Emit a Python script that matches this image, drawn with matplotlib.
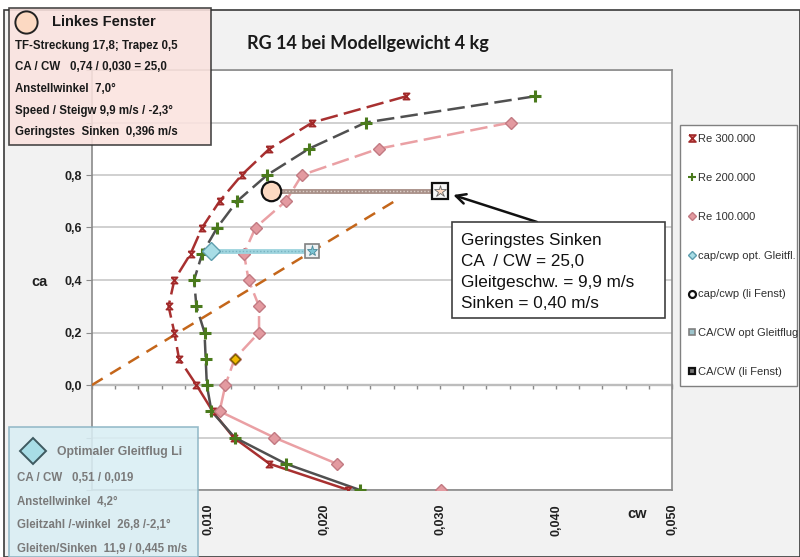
import matplotlib
matplotlib.use('Agg')
import matplotlib.pyplot as plt
import numpy as np
from matplotlib.lines import Line2D
from matplotlib.patches import Rectangle
from matplotlib.ticker import FuncFormatter, MultipleLocator

# polar data (cw, ca)
re300_cw = [0.0271, 0.0190, 0.0153, 0.0129, 0.0110, 0.0095, 0.0085, 0.0071, 0.0066, 0.0071,
            0.0075, 0.0090, 0.0104, 0.0122, 0.0153, 0.0221]
re300_ca = [1.1, 1.0, 0.9, 0.8, 0.7, 0.6, 0.5, 0.4, 0.3, 0.2, 0.1, 0.0, -0.1, -0.2, -0.3, -0.4]
re200_cw = [0.0382, 0.0236, 0.0187, 0.0151, 0.0125, 0.0108, 0.0095, 0.0088, 0.0090, 0.0097,
            0.0098, 0.0099, 0.0103, 0.0123, 0.0167, 0.0231]
re200_ca = [1.1, 1.0, 0.9, 0.8, 0.7, 0.6, 0.5, 0.4, 0.3, 0.2, 0.1, 0.0, -0.1, -0.2, -0.3, -0.4]
re100_cw = [0.0361, 0.0247, 0.0181, 0.0167, 0.0141, 0.0131, 0.0135, 0.0144, 0.0144, 0.0123,
            0.0115, 0.0110, 0.0157, 0.0211, 0.0301]
re100_ca = [1.0, 0.9, 0.8, 0.7, 0.6, 0.5, 0.4, 0.3, 0.2, 0.1, 0.0, -0.1, -0.2, -0.3, -0.4]
re100_joined = 14      # last point stands alone
re100_marked = 9       # point drawn in yellow

# optimum glide and "linkes Fenster"
opt_ca = 0.51
opt_cw_cap = 0.0103
opt_cw = 0.019
li_ca = 0.74
li_cw_cap = 0.0154
li_cw = 0.030
tangent_cw = [0.0, 0.0266]
tangent_ca = [0.0, 0.714]

xtick_vals = [0.010, 0.020, 0.030, 0.040, 0.050]

legend_labels = ['Re 300.000', 'Re 200.000', 'Re 100.000', 'cap/cwp opt. Gleitfl.',
                 'cap/cwp (li Fenst)', 'CA/CW opt Gleitflug', 'CA/CW (li Fenst)']

left_lines = ['TF-Streckung 17,8; Trapez 0,5', 'CA / CW   0,74 / 0,030 = 25,0',
              'Anstellwinkel  7,0°', 'Speed / Steigw 9,9 m/s / -2,3°',
              'Geringstes  Sinken  0,396 m/s']
opt_lines = ['CA / CW   0,51 / 0,019', 'Anstellwinkel  4,2°',
             'Gleitzahl /-winkel  26,8 /-2,1°', 'Gleiten/Sinken  11,9 / 0,445 m/s']
note_lines = ['Geringstes Sinken', 'CA  / CW = 25,0', 'Gleitgeschw. = 9,9 m/s', 'Sinken = 0,40 m/s']

W, H = 800, 557


def fx(x):
    return x / W


def fy(y):
    return 1 - y / H


ARIAL = 'Liberation Sans'
hourglass = [(-1, 1), (1, 1), (-1, -1), (1, -1), (-1, 1)]

fig = plt.figure(figsize=(8, 5.57), dpi=100)
fig.patch.set_facecolor('white')
fig.add_artist(Rectangle((fx(4), fy(557)), 796 / W, 547 / H, transform=fig.transFigure,
                         facecolor='#f2f2f2', edgecolor='#3a3a3a', lw=1.2, zorder=-10))

ax = fig.add_axes([fx(92), fy(490), (672 - 92) / W, (490 - 70) / H])
ax.set_facecolor('white')
ax.set_xlim(0, 0.05)
ax.set_ylim(-0.4, 1.2)
for s in ax.spines.values():
    s.set_color('#8a8a8a')
    s.set_linewidth(1.2)

ax.yaxis.set_major_locator(MultipleLocator(0.2))
ax.grid(axis='y', color='#c8c8c8', lw=1.2, zorder=0)
ax.yaxis.set_major_formatter(FuncFormatter(
    lambda v, p: f'{v:.1f}'.replace('.', ',') if -0.05 < v < 0.85 else ''))
ax.tick_params(axis='y', length=4, color='#8a8a8a', pad=3, labelsize=9)
ax.set_xticks(xtick_vals)
ax.set_xticklabels([f'{v:.3f}'.replace('.', ',') for v in xtick_vals], rotation=90)
ax.tick_params(axis='x', length=0, pad=10, labelsize=9)
for lab in ax.get_xticklabels() + ax.get_yticklabels():
    lab.set_fontweight('bold')
    lab.set_fontfamily(ARIAL)
    lab.set_color('#202020')

# x axis line at ca = 0 with small ticks
ymin, ymax = ax.get_ylim()
zero_ax = ax.secondary_xaxis((0 - ymin) / (ymax - ymin))
zero_ax.spines['bottom'].set_color('#8a8a8a')
zero_ax.spines['bottom'].set_linewidth(1.6)
zero_ax.xaxis.set_major_locator(MultipleLocator(0.002))
zero_ax.tick_params(length=3, color='#8a8a8a', labelbottom=False, width=1)


def polar(cw, ca, color, mk, n_join=None):
    cw = np.array(cw)
    ca = np.array(ca)
    n = len(cw) if n_join is None else n_join
    jc, ja = cw[:n], ca[:n]
    up = ja >= 0
    low = ja <= 0
    ax.plot(jc[up], ja[up], color=color, lw=1.8, ls=(0, (7, 2.5)), zorder=3)
    ax.plot(jc[low], ja[low], color=color, lw=1.8, ls='-', zorder=3)
    ax.plot(cw, ca, ls='none', zorder=4, **mk)


mk300 = dict(marker=hourglass, ms=4.5, mfc='#d86a6a', mec='#a02828', mew=1.2)
mk200 = dict(marker='+', ms=8.5, mec='#4a7a1c', mew=2.2)
mk100 = dict(marker='D', ms=6, mfc='#e39aa0', mec='#c27a82', mew=1)

polar(re300_cw, re300_ca, '#a83030', mk300)
polar(re200_cw, re200_ca, '#505050', mk200)
polar(re100_cw, re100_ca, '#eaa0a4', mk100, n_join=re100_joined)
ax.plot(re100_cw[re100_marked], re100_ca[re100_marked], ls='none', marker='D', ms=5,
        mfc='#f2b800', mec='#7a6000', zorder=5)

# tangent line
ax.plot(tangent_cw, tangent_ca, color='#c4661a', lw=1.8, ls=(0, (5, 3.5)), zorder=3)

# horizontal connectors
ax.plot([opt_cw_cap, opt_cw], [opt_ca, opt_ca], color='#9fd4de', lw=3.5, zorder=5,
        solid_capstyle='butt')
ax.plot([opt_cw_cap, opt_cw], [opt_ca, opt_ca], color='#78b4c2', lw=1, ls=(0, (1, 1.5)), zorder=5)
ax.plot([li_cw_cap, li_cw], [li_ca, li_ca], color='#a89088', lw=3.5, zorder=5,
        solid_capstyle='butt')
ax.plot([li_cw_cap, li_cw], [li_ca, li_ca], color='#ddd0ca', lw=1, ls=(0, (1, 1.5)), zorder=5)

mk_opt_cap = dict(marker='D', ms=9, mfc='#a8dde6', mec='#5e9eae', mew=1)
mk_li_cap = dict(marker='o', ms=14, mfc='#fcd9c2', mec='#111111', mew=1.6)
mk_opt_sq = dict(marker='s', ms=10, mfc='#eef2f4', mec='#808080', mew=1.2)
mk_li_sq = dict(marker='s', ms=12, mfc='#f8f8f8', mec='#111111', mew=1.6)

ax.plot(opt_cw_cap, opt_ca, ls='none', zorder=6, **mk_opt_cap)
ax.plot(li_cw_cap, li_ca, ls='none', zorder=6, **mk_li_cap)
ax.plot(opt_cw, opt_ca, ls='none', zorder=6, **mk_opt_sq)
ax.plot(opt_cw, opt_ca, ls='none', marker='*', ms=8, mfc='#7cc4d4', mec='#4a8a9a', mew=0.6, zorder=7)
ax.plot(li_cw, li_ca, ls='none', zorder=6, **mk_li_sq)
ax.plot(li_cw, li_ca, ls='none', marker='*', ms=9, mfc='#fcd9c2', mec='#666666', mew=0.6, zorder=7)

# annotation box
fig.add_artist(Rectangle((fx(452), fy(318)), (665 - 452) / W, (318 - 222) / H,
                         transform=fig.transFigure, facecolor='white', edgecolor='#404040',
                         lw=1.2, zorder=5))
for i, line in enumerate(note_lines):
    fig.text(fx(461), fy(241 + i * 20.7), line, family=ARIAL, fontsize=12.3, color='#111111',
             va='center', ha='left', zorder=6)
ax.annotate('', xy=(li_cw, li_ca), xytext=(fx(537), fy(222)), textcoords='figure fraction',
            arrowprops=dict(arrowstyle='->,head_length=0.7,head_width=0.35', color='#111111',
                            lw=1.8, shrinkA=0, shrinkB=10), zorder=8)

# labels and title
fig.text(fx(368), fy(43), 'RG 14 bei Modellgewicht 4 kg', family='Lato', weight='bold',
         fontsize=13, ha='center', va='center', color='#1a1a1a')
fig.text(fx(40), fy(282), 'ca', family=ARIAL, weight='bold', fontsize=10.5, ha='center',
         va='center', color='#202020')
fig.text(fx(637), fy(514), 'cw', family=ARIAL, weight='bold', fontsize=10.5, ha='center',
         va='center', color='#202020')

# legend
handles = [Line2D([], [], ls='none', **dict(mk300, ms=5)),
           Line2D([], [], ls='none', **dict(mk200, ms=6, mew=1.5)),
           Line2D([], [], ls='none', **dict(mk100, ms=4)),
           Line2D([], [], ls='none', **dict(mk_opt_cap, ms=4)),
           Line2D([], [], ls='none', marker='o', ms=5, mfc='white', mec='#111111', mew=1.6),
           Line2D([], [], ls='none', **dict(mk_opt_sq, ms=5, mfc='#9cc4cc')),
           Line2D([], [], ls='none', **dict(mk_li_sq, ms=5, mfc='#777777'))]
leg = fig.legend(handles, legend_labels, loc='upper left',
                 bbox_to_anchor=(fx(680), fy(390), (797 - 680) / W, (390 - 125) / H),
                 mode='expand', frameon=True, fancybox=False, edgecolor='#808080',
                 facecolor='white', framealpha=1, prop=dict(family=ARIAL, size=8.0),
                 labelspacing=2.6, handlelength=0.6, handletextpad=0.2, borderpad=0.8,
                 borderaxespad=0)
for t in leg.get_texts():
    t.set_color('#303030')

# "Linkes Fenster" box
fig.add_artist(Rectangle((fx(9), fy(145)), (211 - 9) / W, (145 - 8) / H,
                         transform=fig.transFigure, facecolor='#fbe3df', alpha=0.88,
                         edgecolor='#303030', lw=1.2, zorder=5))
fig.add_artist(Line2D([fx(26)], [fy(22)], marker='o', ms=16, mfc='#fcd9c2', mec='#222222',
                      mew=1.4, transform=fig.transFigure, zorder=6))
fig.text(fx(52), fy(22), 'Linkes Fenster', family=ARIAL, weight='bold', fontsize=10.5,
         va='center', color='#1a1a1a', zorder=6)
for i, line in enumerate(left_lines):
    fig.text(fx(15), fy(46 + i * 21.5), line, family=ARIAL, weight='bold', fontsize=8.3,
             va='center', color='#1a1a1a', zorder=6)

# "Optimaler Gleitflug" box
fig.add_artist(Rectangle((fx(9), fy(557)), (198 - 9) / W, (557 - 427) / H,
                         transform=fig.transFigure, facecolor='#d9eef4', alpha=0.88,
                         edgecolor='#8cb4c4', lw=1.2, zorder=5))
fig.add_artist(Line2D([fx(33)], [fy(451)], marker='D', ms=13, mfc='#a8dde6', mec='#3e5a60',
                      mew=1.4, transform=fig.transFigure, zorder=6))
fig.text(fx(57), fy(452), 'Optimaler Gleitflug Li', family=ARIAL, weight='bold', fontsize=8.8,
         va='center', color='#7a7a7a', zorder=6)
for i, line in enumerate(opt_lines):
    fig.text(fx(17), fy(478 + i * 23.7), line, family=ARIAL, weight='bold', fontsize=8.3,
             va='center', color='#7a7a7a', zorder=6)

fig.savefig('out.png', dpi=100)
